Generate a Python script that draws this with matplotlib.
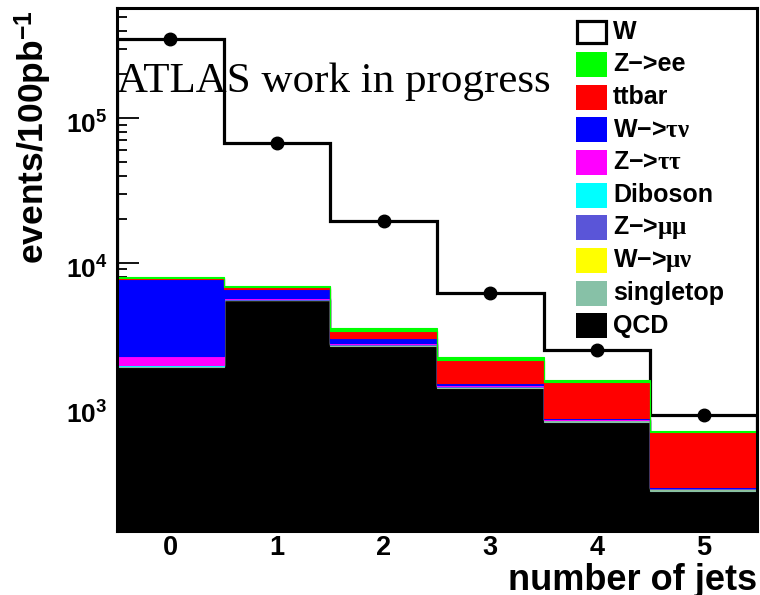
import numpy as np
import matplotlib
matplotlib.use('Agg')
import matplotlib.pyplot as plt
import matplotlib.transforms as mtransforms
from matplotlib.patches import Rectangle
from matplotlib.ticker import FixedLocator, FuncFormatter, LogLocator, NullFormatter

plt.rcParams['font.family'] = ['Liberation Sans', 'DejaVu Sans']
plt.rcParams['font.weight'] = 'bold'
plt.rcParams['mathtext.fontset'] = 'custom'
plt.rcParams['mathtext.rm'] = 'Liberation Sans:bold'
plt.rcParams['mathtext.bf'] = 'Liberation Sans:bold'
plt.rcParams['mathtext.it'] = 'Liberation Serif'

# events per jet-multiplicity bin, one array per sample (stacked bottom -> top)
n_jets = [0, 1, 2, 3, 4, 5]
qcd = [1890, 5470, 2650, 1353, 792, 262]
singletop = [20, 60, 40, 25, 15, 8]
w_munu = [5, 10, 5, 3, 1, 0.5]
z_mumu = [15, 40, 20, 10, 5, 2]
diboson = [20, 40, 20, 12, 5, 2]
z_tautau = [290, 60, 20, 10, 3, 1]
w_taunu = [5490, 910, 225, 53, 14, 3]
ttbar = [30, 170, 360, 654, 661, 392]
z_ee = [240, 150, 170, 90, 40, 14]
w_signal = [345000, 60000, 15770, 3970, 944, 200]

samples = [
    ('QCD', qcd, 'black'),
    ('singletop', singletop, '#87c1a7'),
    ('W\u2212>$\\mu\\nu$', w_munu, '#ffff00'),
    ('Z\u2212>$\\mu\\mu$', z_mumu, '#5a55d8'),
    ('Diboson', diboson, '#00ffff'),
    ('Z\u2212>$\\tau\\tau$', z_tautau, '#ff00ff'),
    ('W\u2212>$\\tau\\nu$', w_taunu, '#0000ff'),
    ('ttbar', ttbar, '#ff0000'),
    ('Z\u2212>ee', z_ee, '#00ff00'),
]

W, H = 760, 595
fig = plt.figure(figsize=(W / 100, H / 100), dpi=100)
ax = fig.add_axes([117 / W, 1 - 531 / H, 640 / W, 523 / H])

edges = np.arange(len(n_jets) + 1) - 0.5
ymin, ymax = 138.7, 5.77e5
floor = 1.0

bkg_total = np.sum([s[1] for s in samples], axis=0)
total = bkg_total + np.array(w_signal)

# W drawn first as hollow outline of the full stack
ax.stairs(total, edges, baseline=floor, fill=True, facecolor='white',
          edgecolor='black', linewidth=2.3, zorder=1)

base = np.full(len(n_jets), floor)
for label, vals, col in samples:
    top = base + np.array(vals)
    ax.stairs(top, edges, baseline=base, fill=True, facecolor=col,
              edgecolor=col, linewidth=0.8, zorder=2)
    base = top

ax.plot(n_jets, total, 'o', color='black', markersize=9, zorder=4)

ax.set_yscale('log')
ax.set_ylim(ymin, ymax)
ax.set_xlim(edges[0], edges[-1])

ax.yaxis.set_major_locator(FixedLocator([1e3, 1e4, 1e5]))
ax.yaxis.set_minor_locator(LogLocator(base=10, subs=np.arange(2, 10), numticks=20))
ax.yaxis.set_minor_formatter(NullFormatter())
ax.yaxis.set_major_formatter(FuncFormatter(
    lambda v, p: r'$\mathbf{10^{%d}}$' % round(np.log10(v))))
ax.tick_params(axis='y', which='major', direction='in', length=16, width=1.3,
               labelsize=19, pad=7, right=False)
ax.tick_params(axis='y', which='minor', direction='in', length=7.5, width=1.3,
               right=False)

# nudge the exponent labels down a little so the mantissa sits on the tick
shift = mtransforms.ScaledTranslation(0, -0.05, fig.dpi_scale_trans)
for lab in ax.get_yticklabels():
    lab.set_transform(lab.get_transform() + shift)

ax.xaxis.set_major_locator(FixedLocator(n_jets))
ax.xaxis.set_minor_locator(FixedLocator(np.arange(-0.3, 5.5, 0.2)))
ax.tick_params(axis='x', which='major', length=0, labelsize=19.5, pad=3, top=False)
ax.tick_params(axis='x', which='minor', direction='in', length=4, width=1,
               color='#555555', top=False)

for sp in ax.spines.values():
    sp.set_linewidth(2.2)
    sp.set_zorder(5)

fig.text(117 / W, 1 - 92 / H, 'ATLAS work in progress', family='Liberation Serif',
         weight='normal', fontsize=31, va='baseline', ha='left', zorder=6)

fig.text(34 / W, 1 - 10 / H, r'events/100pb$^{\mathbf{-1}}$', rotation=90,
         ha='center', va='top', fontsize=25.5)
fig.text(757 / W, 1 - 590 / H, 'number of jets', ha='right', va='baseline',
         fontsize=26)

# legend: hollow W box then filled samples, top to bottom
entries = [('W', None)] + [(lab, col) for lab, _, col in reversed(samples)]
for i, (lab, col) in enumerate(entries):
    yc = 31.7 + 32.67 * i
    if col is None:
        box = Rectangle((577 / W, 1 - (yc + 11) / H), 29 / W, 22 / H,
                        transform=fig.transFigure, facecolor='white',
                        edgecolor='black', linewidth=2.3, zorder=7)
    else:
        box = Rectangle((576 / W, 1 - (yc + 12.5) / H), 31 / W, 25 / H,
                        transform=fig.transFigure, facecolor=col,
                        edgecolor='none', zorder=7)
    fig.patches.append(box)
    fig.text(613 / W, 1 - yc / H, lab, ha='left', va='center', fontsize=18,
             zorder=8)

fig.savefig('out.png', dpi=100)
